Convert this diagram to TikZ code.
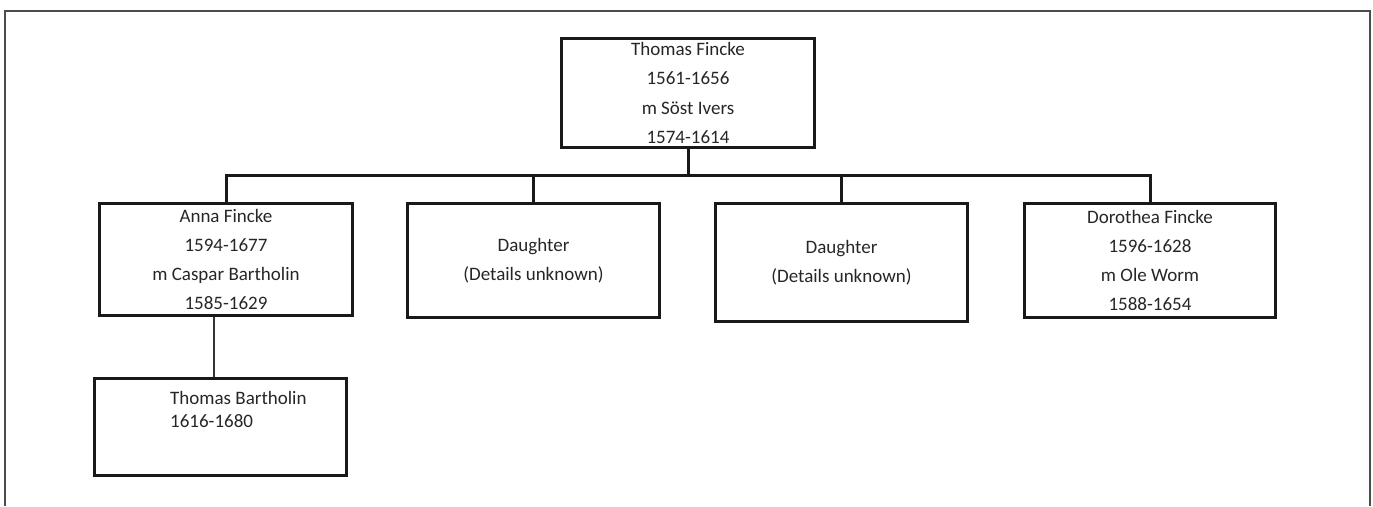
\documentclass[tikz,border=0pt]{standalone}
\usepackage{fontspec}
\setmainfont{Carlito}
\begin{document}
\begin{tikzpicture}[x=1pt,y=-1pt,
  box/.style={draw=black!90, line width=3pt, inner sep=0pt, align=center,
    font=\fontsize{19}{29.3}\selectfont, text=black!85},
  conn/.style={draw=black!90, line width=3pt},
  thin/.style={draw=black!80, line width=1.2pt},
  frame/.style={draw=black!70, line width=2pt}]
\useasboundingbox (0,0) rectangle (1373,506);
\draw[frame] (5,506) -- (5,11) -- (1370,11) -- (1370,506);
\node[box, minimum width=253pt, minimum height=109pt] (top) at (688,93)
  {Thomas Fincke\\1561-1656\\m Söst Ivers\\1574-1614};
\node[box, minimum width=253pt, minimum height=112pt] (anna) at (226,259.5)
  {Anna Fincke\\1594-1677\\m Caspar Bartholin\\1585-1629};
\node[box, minimum width=252pt, minimum height=114pt] (d1) at (533.5,260.5)
  {Daughter\\(Details unknown)};
\node[box, minimum width=252pt, minimum height=118pt] (d2) at (841.5,262.5)
  {Daughter\\(Details unknown)};
\node[box, minimum width=251pt, minimum height=114pt] (doro) at (1150,260.5)
  {Dorothea Fincke\\1596-1628\\m Ole Worm\\1588-1654};
\node[box, minimum width=252pt, minimum height=97pt] (tb) at (220.5,427) {};
\node[anchor=west, align=left, inner sep=0pt, text=black!85,
  font=\fontsize{19}{23}\selectfont] (tbt) at (170,409)
  {Thomas Bartholin\\1616-1680};
\coordinate (bar) at (0,175);
\coordinate (tbc) at (214,0);
\draw[conn] (top.south) -- (top.south |- bar);
\draw[conn] (anna.north) -- (anna.north |- bar) -- (doro.north |- bar) -- (doro.north);
\draw[conn] (d1.north) -- (d1.north |- bar);
\draw[conn] (d2.north) -- (d2.north |- bar);
\draw[thin] (anna.south -| tbc) -- (tb.north -| tbc);
\end{tikzpicture}
\end{document}
